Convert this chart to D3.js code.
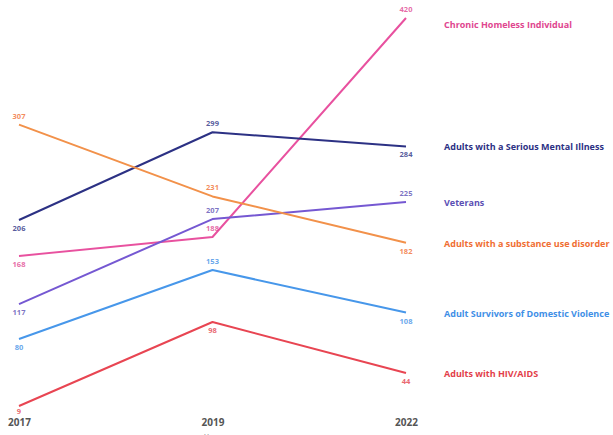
<!DOCTYPE html>
<html><head><meta charset="utf-8">
<script src="https://cdn.jsdelivr.net/npm/d3@7"></script>
<style>html,body{margin:0;padding:0;background:#fff;}svg{display:block;}</style>
</head><body>
<svg id="c" width="613" height="435"></svg>
<script>
const years = ["2017", "2019", "2022"];
const seriesNames = [
  "Chronic Homeless Individual",
  "Adults with a Serious Mental Illness",
  "Veterans",
  "Adults with a substance use disorder",
  "Adult Survivors of Domestic Violence",
  "Adults with HIV/AIDS"
];
const chronicHomeless = [168, 188, 420];
const seriousMentalIllness = [206, 299, 284];
const veterans = [117, 207, 225];
const substanceUse = [307, 231, 182];
const domesticViolence = [80, 153, 108];
const hivAids = [9, 98, 44];
const lineColors = ["#e8519f", "#2c3184", "#7558d2", "#f2914a", "#4797ea", "#e84552"];
const textColors = ["#e0468f", "#2c3184", "#5b4fb4", "#f06e33", "#3f8fe6", "#e33e4a"];
// label placement: -1 above, +1 below
const labelSide = [
  [1, -1, -1],
  [1, -1, 1],
  [1, -1, -1],
  [-1, -1, 1],
  [1, -1, 1],
  [1, 1, 1]
];

const values = [chronicHomeless, seriousMentalIllness, veterans, substanceUse, domesticViolence, hivAids];
const series = seriesNames.map((n, i) => ({name: n, values: values[i], color: lineColors[i], tcolor: textColors[i], side: labelSide[i]}));

const svg = d3.select("#c");
const x = d3.scalePoint().domain(years).range([19, 406]);
const y = d3.scaleLinear().domain([0, 420]).range([414.5, 18]);

const line = d3.line().x((d, i) => x(years[i])).y(d => y(d));

const g = svg.append("g");
g.selectAll("path.s").data(series).join("path")
  .attr("class", "s")
  .attr("d", d => line(d.values))
  .attr("fill", "none")
  .attr("stroke", d => d.color)
  .attr("stroke-width", 2)
  .attr("stroke-linejoin", "round");

// value labels
series.forEach(s => {
  g.selectAll(null).data(s.values).join("text")
    .attr("x", (d, i) => x(years[i]))
    .attr("y", (d, i) => y(d) + (s.side[i] < 0 ? -6 : (y(d) > 400 ? 8 : 11)))
    .attr("text-anchor", "middle")
    .attr("font-family", "Open Sans, sans-serif")
    .attr("font-weight", "bold")
    .attr("font-size", 7.5)
    .attr("fill", s.tcolor)
    .attr("fill-opacity", 0.8)
    .text(d => d);
});

// end labels
svg.selectAll("text.leg").data(series).join("text")
  .attr("class", "leg")
  .attr("x", 444)
  .attr("y", d => Math.max(y(d.values[2]) + 4, 28))
  .attr("font-family", "Open Sans, sans-serif")
  .attr("font-weight", "bold")
  .attr("font-size", 9)
  .attr("fill", d => d.tcolor)
  .text(d => d.name);

// x axis
const xAxis = d3.axisBottom(x).tickSize(0).tickPadding(0);
const ax = svg.append("g").attr("transform", "translate(0,419)").call(xAxis);
ax.select(".domain").remove();
ax.selectAll("text")
  .attr("font-family", "Open Sans, sans-serif")
  .attr("font-weight", "bold")
  .attr("font-size", 10)
  .attr("fill", "#555");
svg.append("text").attr("x", x("2019")).attr("y", 439)
  .attr("text-anchor", "middle")
  .attr("font-family", "Open Sans, sans-serif")
  .attr("font-size", 8).attr("fill", "#888").text("Year");
</script>
</body></html>
